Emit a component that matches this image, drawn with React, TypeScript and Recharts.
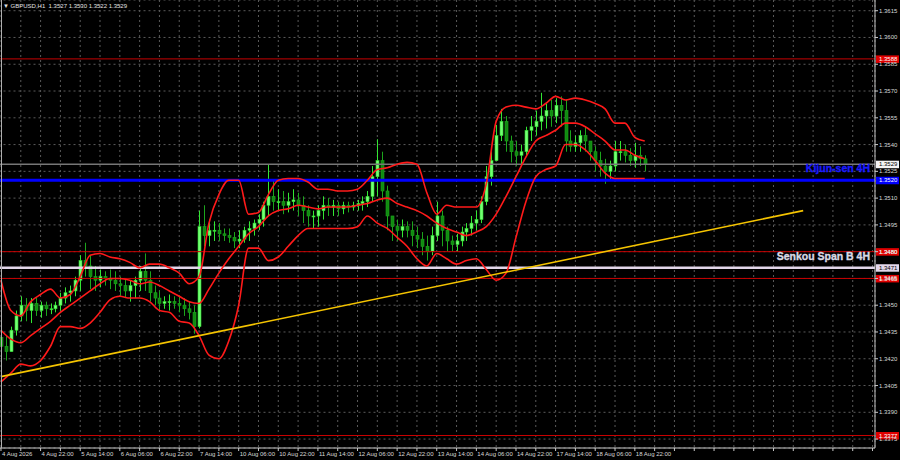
import React from "react";
import {
  ComposedChart,
  Bar,
  Line,
  XAxis,
  YAxis,
  CartesianGrid,
  ReferenceLine,
} from "recharts";

// 2-hour bars starting 4 Aug 06:00, one time label every 8 bars (16h)
const timeLabels = [
  "4 Aug 2026", "4 Aug 22:00", "5 Aug 14:00", "6 Aug 06:00", "6 Aug 22:00",
  "7 Aug 14:00", "10 Aug 06:00", "10 Aug 22:00", "11 Aug 14:00", "12 Aug 06:00",
  "12 Aug 22:00", "13 Aug 14:00", "14 Aug 06:00", "14 Aug 22:00", "17 Aug 14:00",
  "18 Aug 06:00", "18 Aug 22:00",
];

const firstOpen = 1.3432;

const highs = [
  1.3436, 1.3433, 1.3438, 1.3447, 1.3455, 1.3454, 1.3454, 1.3454, 1.3452, 1.3452,
  1.3451, 1.3452, 1.3457, 1.3460, 1.3461, 1.3466, 1.3478, 1.3485, 1.3478, 1.3472,
  1.3470, 1.3469, 1.3470, 1.3469, 1.3466, 1.3465, 1.3464, 1.3466, 1.3472, 1.3479,
  1.3469, 1.3461, 1.3458, 1.3455, 1.3456, 1.3455, 1.3455, 1.3454, 1.3452, 1.3450,
  1.3503, 1.3506, 1.3498, 1.3497, 1.3496, 1.3493, 1.3493, 1.3491, 1.3492, 1.3494,
  1.3497, 1.3498, 1.3501, 1.3508, 1.3529, 1.3520, 1.3515, 1.3514, 1.3513, 1.3515,
  1.3513, 1.3511, 1.3506, 1.3503, 1.3506, 1.3511, 1.3510, 1.3509, 1.3508, 1.3508,
  1.3508, 1.3508, 1.3509, 1.3511, 1.3514, 1.3528, 1.3543, 1.3536, 1.3517, 1.3500,
  1.3498, 1.3498, 1.3497, 1.3497, 1.3494, 1.3491, 1.3489, 1.3494, 1.3508, 1.3503,
  1.3494, 1.3489, 1.3490, 1.3494, 1.3496, 1.3500, 1.3503, 1.3511, 1.3528, 1.3536,
  1.3551, 1.3560, 1.3556, 1.3545, 1.3542, 1.3540, 1.3550, 1.3556, 1.3559, 1.3569,
  1.3563, 1.3565, 1.3566, 1.3567, 1.3565, 1.3548, 1.3545, 1.3548, 1.3550, 1.3542,
  1.3539, 1.3536, 1.3532, 1.3531, 1.3542, 1.3542, 1.3540, 1.3538, 1.3541, 1.3539,
  1.3534,
];

const lows = [
  1.3422, 1.3419, 1.3424, 1.3433, 1.3441, 1.3441, 1.3440, 1.3444, 1.3443, 1.3444,
  1.3445, 1.3446, 1.3447, 1.3451, 1.3452, 1.3455, 1.3458, 1.3466, 1.3459, 1.3458,
  1.3460, 1.3461, 1.3459, 1.3458, 1.3455, 1.3454, 1.3452, 1.3454, 1.3458, 1.3458,
  1.3452, 1.3450, 1.3447, 1.3448, 1.3447, 1.3448, 1.3446, 1.3444, 1.3442, 1.3434,
  1.3437, 1.3483, 1.3483, 1.3486, 1.3486, 1.3486, 1.3485, 1.3482, 1.3482, 1.3485,
  1.3486, 1.3489, 1.3492, 1.3494, 1.3500, 1.3503, 1.3503, 1.3501, 1.3502, 1.3503,
  1.3500, 1.3496, 1.3494, 1.3493, 1.3494, 1.3498, 1.3500, 1.3500, 1.3500, 1.3501,
  1.3502, 1.3503, 1.3503, 1.3503, 1.3505, 1.3508, 1.3511, 1.3508, 1.3492, 1.3486,
  1.3486, 1.3488, 1.3488, 1.3483, 1.3482, 1.3478, 1.3475, 1.3478, 1.3486, 1.3483,
  1.3480, 1.3480, 1.3480, 1.3483, 1.3486, 1.3489, 1.3492, 1.3496, 1.3506, 1.3517,
  1.3531, 1.3542, 1.3536, 1.3530, 1.3528, 1.3529, 1.3534, 1.3542, 1.3545, 1.3548,
  1.3549, 1.3550, 1.3552, 1.3550, 1.3536, 1.3536, 1.3536, 1.3536, 1.3536, 1.3531,
  1.3525, 1.3522, 1.3518, 1.3520, 1.3525, 1.3531, 1.3530, 1.3528, 1.3527, 1.3528,
  1.3525,
];

const closes = [
  1.3427, 1.3424, 1.3436, 1.3444, 1.3450, 1.3447, 1.3451, 1.3447, 1.3450, 1.3448,
  1.3448, 1.3450, 1.3454, 1.3457, 1.3458, 1.3464, 1.3475, 1.3472, 1.3466, 1.3464,
  1.3466, 1.3465, 1.3464, 1.3462, 1.3461, 1.3458, 1.3461, 1.3464, 1.3469, 1.3464,
  1.3457, 1.3454, 1.3451, 1.3452, 1.3452, 1.3451, 1.3450, 1.3448, 1.3446, 1.3438,
  1.3494, 1.3489, 1.3492, 1.3492, 1.3490, 1.3489, 1.3488, 1.3486, 1.3487, 1.3492,
  1.3493, 1.3496, 1.3498, 1.3506, 1.3511, 1.3508, 1.3508, 1.3506, 1.3508, 1.3509,
  1.3506, 1.3503, 1.3500, 1.3500, 1.3503, 1.3506, 1.3505, 1.3506, 1.3504, 1.3506,
  1.3505, 1.3506, 1.3507, 1.3508, 1.3511, 1.3522, 1.3531, 1.3514, 1.3500, 1.3494,
  1.3492, 1.3494, 1.3492, 1.3489, 1.3487, 1.3483, 1.3480, 1.3489, 1.3500, 1.3492,
  1.3486, 1.3484, 1.3486, 1.3491, 1.3493, 1.3496, 1.3498, 1.3508, 1.3522, 1.3531,
  1.3545, 1.3553, 1.3542, 1.3536, 1.3534, 1.3536, 1.3548, 1.3550, 1.3553, 1.3556,
  1.3559, 1.3556, 1.3562, 1.3559, 1.3542, 1.3539, 1.3541, 1.3545, 1.3542, 1.3536,
  1.3531, 1.3528, 1.3525, 1.3528, 1.3536, 1.3536, 1.3534, 1.3531, 1.3534, 1.3532,
  1.3529,
];

// bollinger bands, read every second bar
const bandUpper = [
  1.3464, 1.3447, 1.3444, 1.3452, 1.3456, 1.3459, 1.3454, 1.3456, 1.3466, 1.3478,
  1.3479, 1.3477, 1.3476, 1.3474, 1.3471, 1.3473, 1.3473, 1.3471, 1.3468, 1.3462,
  1.3466, 1.3496, 1.3512, 1.3520, 1.3520, 1.3501, 1.3502, 1.3512, 1.3520, 1.3521,
  1.3521, 1.3519, 1.3515, 1.3515, 1.3514, 1.3514, 1.3515, 1.3520, 1.3526, 1.3527,
  1.3529, 1.3530, 1.3529, 1.3513, 1.3501, 1.3506, 1.3505, 1.3505, 1.3505, 1.3518,
  1.3553, 1.3561, 1.3562, 1.3561, 1.3560, 1.3563, 1.3567, 1.3565, 1.3566, 1.3565,
  1.3563, 1.3560, 1.3552, 1.3552, 1.3544, 1.3542,
];
const bandMiddle = [
  1.3436, 1.3431, 1.3429, 1.3433, 1.3437, 1.3441, 1.3446, 1.3450, 1.3454, 1.3458,
  1.3462, 1.3465, 1.3465, 1.3464, 1.3462, 1.3463, 1.3461, 1.3458, 1.3455, 1.3452,
  1.3451, 1.3459, 1.3468, 1.3476, 1.3483, 1.3490, 1.3494, 1.3500, 1.3503, 1.3504,
  1.3506, 1.3505, 1.3504, 1.3505, 1.3505, 1.3505, 1.3506, 1.3507, 1.3509, 1.3510,
  1.3507, 1.3505, 1.3503, 1.3500, 1.3496, 1.3493, 1.3491, 1.3489, 1.3491, 1.3494,
  1.3501, 1.3511, 1.3522, 1.3533, 1.3542, 1.3545, 1.3548, 1.3552, 1.3552, 1.3550,
  1.3546, 1.3542, 1.3537, 1.3537, 1.3534, 1.3532,
];
const bandLower = [
  1.3407, 1.3412, 1.3417, 1.3416, 1.3419, 1.3427, 1.3438, 1.3438, 1.3437, 1.3440,
  1.3446, 1.3453, 1.3455, 1.3454, 1.3454, 1.3452, 1.3447, 1.3446, 1.3441, 1.3440,
  1.3433, 1.3422, 1.3420, 1.3430, 1.3450, 1.3482, 1.3482, 1.3475, 1.3477, 1.3483,
  1.3489, 1.3493, 1.3493, 1.3493, 1.3493, 1.3493, 1.3494, 1.3500, 1.3496, 1.3493,
  1.3488, 1.3483, 1.3476, 1.3472, 1.3479, 1.3476, 1.3473, 1.3475, 1.3476, 1.3470,
  1.3464, 1.3468, 1.3488, 1.3508, 1.3522, 1.3526, 1.3528, 1.3540, 1.3540, 1.3537,
  1.3531, 1.3524, 1.3521, 1.3521, 1.3521, 1.3521,
];

const trendBars = [0, 162];
const trendPrices = [1.341, 1.3503];

const priceTicks = [
  1.3375, 1.339, 1.3405, 1.342, 1.3435, 1.345, 1.3465, 1.348, 1.3495,
  1.351, 1.3525, 1.354, 1.3555, 1.357, 1.3585, 1.36, 1.3615,
];

const redLevels = [1.3588, 1.348, 1.3465, 1.3377];
const kijunLevel = 1.352;
const senkouLevel = 1.3471;
const lastPrice = 1.3529;

const SLOTS = 177;
const FONT = "'Liberation Sans', Arial, sans-serif";

const data = Array.from({ length: SLOTS }, (_, i) => {
  const has = i < closes.length;
  const b = i % 2 === 0 ? i / 2 : -1;
  const t = trendBars.indexOf(i);
  return {
    slot: i,
    range: has ? [lows[i], highs[i]] : null,
    open: has ? (i === 0 ? firstOpen : closes[i - 1]) : null,
    high: has ? highs[i] : null,
    low: has ? lows[i] : null,
    close: has ? closes[i] : null,
    upper: b >= 0 && b < bandUpper.length ? bandUpper[b] : null,
    middle: b >= 0 && b < bandMiddle.length ? bandMiddle[b] : null,
    lower: b >= 0 && b < bandLower.length ? bandLower[b] : null,
    trend: t >= 0 ? trendPrices[t] : null,
  };
});

const tickSlots = Array.from({ length: 45 }, (_, k) => k * 4);

function Candle(props: any) {
  const { x, y, width, height, payload } = props;
  if (!payload || payload.high == null || !isFinite(y) || !isFinite(height)) return null;
  let top = y;
  let h = height;
  if (h < 0) {
    top = y + h;
    h = -h;
  }
  const span = payload.high - payload.low || 0.00001;
  const toY = (v: number) => top + ((payload.high - v) / span) * h;
  const cx = Math.round(x + width / 2) + 0.5;
  const yo = toY(payload.open);
  const yc = toY(payload.close);
  const up = payload.close >= payload.open;
  const bTop = Math.min(yo, yc);
  const bH = Math.max(1, Math.abs(yo - yc));
  return (
    <g>
      <line x1={cx} x2={cx} y1={top} y2={top + h} stroke={up ? "#33e633" : "#1ca51c"} strokeWidth={1} />
      <rect
        x={cx - 1.5}
        y={bTop}
        width={3}
        height={bH}
        fill={up ? "#74ff74" : "#118a11"}
        stroke={up ? "#2ad82a" : "#1ca51c"}
        strokeWidth={0.6}
      />
    </g>
  );
}

function XTick({ x, payload }: any) {
  const idx = payload.value / 8;
  const label = Number.isInteger(idx) ? timeLabels[idx] : undefined;
  if (!label) return null;
  return (
    <text x={x + 1} y={456} fontSize={6} fill="#d8d8d8" fontFamily={FONT}>
      {label}
    </text>
  );
}

function YTick({ y, payload }: any) {
  return (
    <text x={879} y={y + 2} fontSize={6} fill="#d8d8d8" fontFamily={FONT}>
      {payload.value.toFixed(4)}
    </text>
  );
}

function PriceTag({ viewBox, value, bg, fg, name, nameColor }: any) {
  if (!viewBox) return null;
  const right = viewBox.x + viewBox.width;
  const y = viewBox.y;
  return (
    <g>
      {name && (
        <text
          x={870}
          y={y - 8}
          textAnchor="end"
          fontSize={10.5}
          fontWeight="bold"
          fill={nameColor}
          stroke={nameColor}
          strokeWidth={0.35}
          fontFamily={FONT}
        >
          {name}
        </text>
      )}
      <rect x={right + 1} y={y - 3.5} width={23} height={7.5} fill={bg} />
      <text x={right + 4} y={y + 2.2} fontSize={6} fill={fg} fontFamily={FONT}>
        {value.toFixed(4)}
      </text>
    </g>
  );
}

export default function App(): React.ReactElement {
  return (
    <div style={{ position: "absolute", left: 0, top: 0, width: 900, height: 460, background: "#000" }}>
      <ComposedChart
        width={900}
        height={460}
        data={data}
        margin={{ top: 0, right: 0, left: -1.5, bottom: 0 }}
        barCategoryGap={0}
        barGap={0}
      >
        <CartesianGrid stroke="#5a5a5a" strokeDasharray="2 3" />
        <XAxis
          dataKey="slot"
          ticks={tickSlots}
          interval={0}
          tick={<XTick />}
          tickSize={3}
          height={12}
          axisLine={{ stroke: "#c8c8c8" }}
          tickLine={{ stroke: "#c8c8c8" }}
        />
        <YAxis
          orientation="right"
          type="number"
          domain={[1.337, 1.3621]}
          allowDataOverflow
          ticks={priceTicks}
          width={25}
          tickSize={3}
          tick={<YTick />}
          axisLine={{ stroke: "#c8c8c8" }}
          tickLine={{ stroke: "#c8c8c8" }}
        />
        {redLevels.map((v) => (
          <ReferenceLine
            key={v}
            y={v}
            stroke="#c80000"
            strokeWidth={1}
            label={<PriceTag value={v} bg="#e00000" fg="#ffffff" />}
          />
        ))}
        <ReferenceLine
          y={lastPrice}
          stroke="#777777"
          strokeWidth={1.5}
          label={<PriceTag value={lastPrice} bg="#f4f4f4" fg="#000000" />}
        />
        <ReferenceLine
          y={senkouLevel}
          stroke="#e2d6ea"
          strokeWidth={2.5}
          label={
            <PriceTag value={senkouLevel} bg="#e2d6ea" fg="#000000" name="Senkou Span B 4H" nameColor="#d8d8e4" />
          }
        />
        <ReferenceLine
          y={kijunLevel}
          stroke="#0000ff"
          strokeWidth={3}
          label={<PriceTag value={kijunLevel} bg="#0000ff" fg="#ffffff" name="Kijun-sen 4H" nameColor="#1a1aff" />}
        />
        <Bar dataKey="range" shape={<Candle />} isAnimationActive={false} />
        <Line
          dataKey="upper"
          type="monotone"
          stroke="#ff1a1a"
          strokeWidth={1.6}
          dot={false}
          activeDot={false}
          connectNulls
          isAnimationActive={false}
        />
        <Line
          dataKey="middle"
          type="monotone"
          stroke="#ff1a1a"
          strokeWidth={1.6}
          dot={false}
          activeDot={false}
          connectNulls
          isAnimationActive={false}
        />
        <Line
          dataKey="lower"
          type="monotone"
          stroke="#ff1a1a"
          strokeWidth={1.6}
          dot={false}
          activeDot={false}
          connectNulls
          isAnimationActive={false}
        />
        <Line
          dataKey="trend"
          type="linear"
          stroke="#f5c400"
          strokeWidth={1.6}
          dot={false}
          activeDot={false}
          connectNulls
          isAnimationActive={false}
        />
      </ComposedChart>
      <div style={{ position: "absolute", left: 1, top: 0, width: 1, height: 448, background: "#b0b0b0" }} />
      <div
        style={{
          position: "absolute",
          left: 3,
          top: 2,
          fontSize: 6,
          color: "#e0e0e0",
          fontFamily: FONT,
          whiteSpace: "pre",
          lineHeight: "8px",
        }}
      >
        {"\u25BC GBPUSD,H1  1.3527 1.3530 1.3522 1.3529"}
      </div>
    </div>
  );
}
